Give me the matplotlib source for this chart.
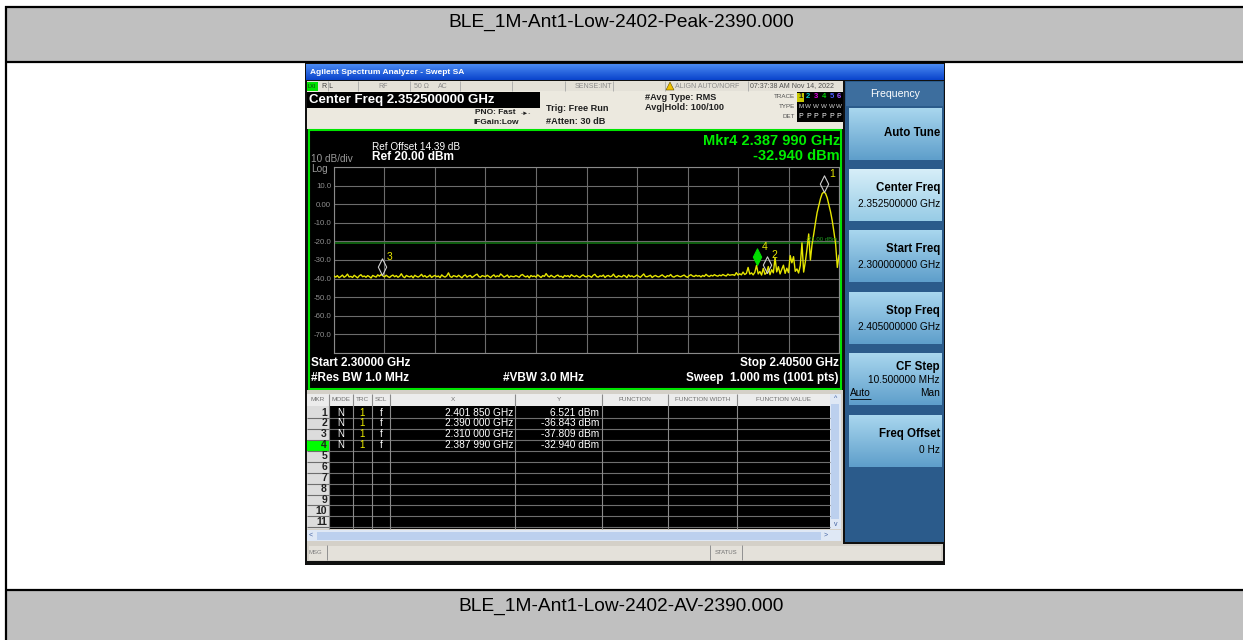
import numpy as np
import matplotlib.pyplot as plt
from matplotlib.patches import Rectangle, Polygon
from matplotlib.path import Path
from matplotlib.colors import to_rgb

plt.rcParams['font.family'] = ['Liberation Sans', 'DejaVu Sans']

# ---- data ----
page_title_top = 'BLE_1M-Ant1-Low-2402-Peak-2390.000'
page_title_bottom = 'BLE_1M-Ant1-Low-2402-AV-2390.000'

start_ghz = 2.300
stop_ghz = 2.405
ref_level_dbm = 20.0
bottom_dbm = -80.0
display_line_dbm = -21.0

# sweep trace, evenly spaced from start to stop (0.35 MHz apart)
trace_dbm = [
    -38.6, -39.2, -38.4, -39.5, -38.9, -38.1, -39.3, -38.7, -37.6, -39.1, -38.8, -39.4,
    -38.2, -38.9, -39.6, -38.5, -37.9, -39.0, -38.6, -39.3, -38.4, -38.9, -39.7, -38.3,
    -38.8, -39.2, -38.0, -38.7, -37.8, -38.5, -39.1, -38.2, -38.9, -39.4, -38.6, -38.1,
    -39.0, -38.4, -39.3, -38.7, -37.4, -38.9, -39.5, -38.3, -38.8, -39.1, -38.5, -39.6,
    -38.2, -38.8, -39.2, -38.6, -37.7, -39.0, -38.4, -39.3, -38.9, -38.1, -39.4, -38.7,
    -38.3, -39.0, -38.6, -39.5, -38.0, -38.8, -39.2, -38.5, -36.9, -38.9, -39.3, -38.4,
    -38.7, -39.1, -38.2, -38.9, -39.6, -38.5, -38.0, -39.2, -38.6, -38.3, -39.4, -38.8,
    -38.1, -37.6, -38.9, -39.3, -38.4, -38.7, -39.0, -38.2, -38.8, -39.5, -38.6, -38.0,
    -39.1, -38.5, -38.9, -37.5, -38.3, -39.2, -38.7, -38.1, -39.4, -38.6, -38.9, -39.0,
    -38.4, -38.8, -39.3, -38.2, -37.8, -38.7, -39.1, -38.5, -39.6, -38.3, -38.9, -38.6,
    -39.2, -38.0, -38.7, -39.4, -38.4, -38.8, -37.3, -38.6, -39.1, -38.2, -38.9, -39.3,
    -38.5, -38.1, -39.0, -38.7, -39.5, -38.3, -38.8, -38.4, -39.2, -37.9, -38.6, -39.0,
    -38.3, -38.9, -39.4, -38.6, -38.0, -38.8, -39.1, -38.4, -38.7, -39.3, -38.2, -37.7,
    -38.9, -39.2, -38.5, -38.8, -38.1, -39.4, -38.6, -38.3, -39.0, -38.7, -37.6, -38.9,
    -39.3, -38.4, -38.8, -39.1, -38.2, -38.6, -39.5, -38.0, -38.9, -38.5, -39.2, -38.7,
    -38.1, -38.8, -39.3, -38.4, -37.5, -38.9, -39.0, -38.6, -38.2, -39.4, -38.7, -38.3,
    -38.9, -39.1, -38.5, -38.0, -38.8, -39.3, -38.4, -38.7, -37.8, -38.9, -39.2, -38.6,
    -38.3, -38.8, -39.0, -38.5, -38.1, -38.9, -39.3, -38.4, -37.9, -38.6, -38.9, -38.2,
    -38.7, -38.4, -39.1, -38.3, -38.8, -37.7, -38.5, -38.9, -38.2, -38.6, -37.9, -38.4,
    -38.7, -38.1, -38.5, -37.8, -38.3, -38.6, -37.6, -38.2, -38.0,
    -37.9, -38.3, -36.8, -38.1, -37.4, -38.0, -36.5, -37.8, -37.2, -34.0, -37.6, -36.9,
    -38.0, -36.6, -32.9, -37.5, -36.2, -38.1, -34.5, -37.7, -36.8, -33.5, -37.9, -35.2,
    -36.9, -28.8, -36.4, -33.6, -37.5, -35.0, -32.8, -37.2, -34.4, -36.8, -27.6, -31.5,
    -28.2, -36.1, -34.8, -37.0, -33.0, -20.8, -36.5, -31.0, -24.0, -16.0, -30.0,
    -21.5, -16.0, -10.0, -4.5, -0.8, 3.0, 5.7, 6.52, 5.8, 3.4, -0.4, -4.2,
    -9.0, -15.0, -21.5, -34.0, -27.5,
]

mkr_ids = [1, 2, 3, 4]
mkr_freq_ghz = [2.401850, 2.390000, 2.310000, 2.387990]
mkr_level_dbm = [6.521, -36.843, -37.809, -32.940]
active_mkr = 4

ytick_dbm = [20, 10, 0, -10, -20, -30, -40, -50, -60, -70, -80]
ytick_labels = ['', '10.0', '0.00', '-10.0', '-20.0', '-30.0', '-40.0', '-50.0', '-60.0', '-70.0', '']

table_cols = ['MKR', 'MODE', 'TRC', 'SCL', 'X', 'Y', 'FUNCTION', 'FUNCTION WIDTH', 'FUNCTION VALUE']
table_rows = 11

softkey_titles = ['Auto Tune', 'Center Freq', 'Start Freq', 'Stop Freq', 'CF Step', 'Freq Offset']
softkey_values = ['', '2.352500000 GHz', '2.300000000 GHz', '2.405000000 GHz', '10.500000 MHz', '0 Hz']

trace_nums = ['1', '2', '3', '4', '5', '6']
trace_cols = ['#202020', '#00c8c8', '#e000e0', '#00d000', '#4a5cff', '#a050ff']

# ---- figure with a pixel-coordinate overlay ----
fig = plt.figure(figsize=(12.43, 6.4), dpi=100)
ui = fig.add_axes([0, 0, 1, 1])
ui.axis('off')


def box(x0, y0, x1, y1, fc, ec='none', lw=0, z=1):
    ui.add_patch(Rectangle((x0, y0), x1 - x0, y1 - y0, fc=fc, ec=ec, lw=lw, zorder=z))


def grad(x0, y0, x1, y1, c_top, c_bot, z=1):
    t = np.linspace(0, 1, 32)[:, None]
    img = (1 - t) * np.array(to_rgb(c_top)) + t * np.array(to_rgb(c_bot))
    ui.imshow(img[:, None, :], extent=(x0, x1, y1, y0), aspect='auto', zorder=z,
              interpolation='bilinear')


def txt(x, y, s, size=6, color='black', ha='left', weight='normal', z=6, **kw):
    ui.text(x, y, s, fontsize=size, color=color, ha=ha, va='center', fontweight=weight,
            zorder=z, **kw)


def hline(y, x0, x1, color, lw, z=4):
    ui.plot([x0, x1], [y, y], color=color, lw=lw, zorder=z, solid_capstyle='butt')


def vline(x, y0, y1, color, lw, z=4):
    ui.plot([x, x], [y0, y1], color=color, lw=lw, zorder=z, solid_capstyle='butt')


# page table
box(7, 7, 1243, 61, '#c0c0c0')
box(7, 590, 1243, 640, '#c0c0c0')
hline(6.5, 5.5, 1243, 'black', 1.6)
hline(61.5, 5.5, 1243, 'black', 1.6)
hline(589.5, 5.5, 1243, 'black', 1.6)
vline(6.5, 5.5, 640, 'black', 1.6)
txt(621, 22, page_title_top, size=13.8, ha='center')
txt(621, 606, page_title_bottom, size=13.8, ha='center')

# screenshot frame and title bar
box(305, 63, 945, 565, '#101010', z=1)
grad(306, 64, 944, 80, '#4a8af2', '#0a44cc', z=2)
txt(310, 72.5, 'Agilent Spectrum Analyzer - Swept SA', size=6, color='white', weight='bold')

# status row
box(307, 81, 843, 91, '#e4e1d8', z=2)
for x in [328, 358, 410, 460, 512, 565, 613, 665, 748]:
    vline(x, 81, 91, '#a8a8a8', 0.6)
box(307, 81.5, 318, 90.5, '#00e000', z=3)
txt(308, 86, 'LXI', size=4, color='#103010')
txt(322, 86, 'R L', size=5, color='#404040')
txt(383, 86, 'RF', size=5, color='#8a8a8a', ha='center')
txt(421, 86, '50 Ω', size=5, color='#8a8a8a', ha='center')
txt(443, 86, 'AC', size=5, color='#8a8a8a', ha='center')
txt(593, 86, 'SENSE:INT', size=5, color='#8a8a8a', ha='center')
ui.add_patch(Polygon([[666, 90], [670, 82], [674, 90]], closed=True, fc='#f0c000', ec='#605000',
                     lw=0.4, zorder=5))
txt(675, 86, 'ALIGN AUTO/NORF', size=5, color='#8a8a8a')
txt(750, 86, '07:37:38 AM Nov 14, 2022', size=5, color='#505050')

# settings header
box(307, 91, 843, 129, '#ece9df', z=2)
box(307, 92, 540, 107.5, 'black', z=3)
txt(309, 100, 'Center Freq 2.352500000 GHz', size=9.5, color='white', weight='bold')
txt(516, 113, 'PNO: Fast', size=6, color='#202020', weight='bold', ha='right')
txt(521, 113, '-►-', size=4.5, color='#202020')
txt(519, 122.5, 'IFGain:Low', size=6, color='#202020', weight='bold', ha='right')
txt(546, 108.5, 'Trig: Free Run', size=6.6, color='#202020', weight='bold')
txt(546, 121, '#Atten: 30 dB', size=6.6, color='#202020', weight='bold')
txt(645, 98, '#Avg Type: RMS', size=6.6, color='#202020', weight='bold')
txt(645, 108, 'Avg|Hold: 100/100', size=6.6, color='#202020', weight='bold')
txt(795, 97, 'TRACE', size=4.5, color='#505050', ha='right')
txt(795, 107, 'TYPE', size=4.5, color='#505050', ha='right')
txt(795, 117, 'DET', size=4.5, color='#505050', ha='right')
box(797, 92, 843, 122, 'black', z=3)
box(797.5, 92.5, 804, 101.5, '#c8c800', z=4)
for i, (num, col) in enumerate(zip(trace_nums, trace_cols)):
    x = 800.7 + 7.7 * i
    txt(x, 97, num, size=5.5, color=col, weight='bold', ha='center')
    txt(x, 107, 'M' if i == 0 else 'W', size=4.5, color='#d0d0d0', ha='center')
    txt(x, 117, 'P', size=5, color='white', ha='center')

# graticule frame
box(309, 129.5, 841.5, 388.5, 'black', ec='#00e400', lw=1.5, z=2)
txt(372, 147, 'Ref Offset 14.39 dB', size=7.2, color='white')
txt(311, 158.5, '10 dB/div', size=7.2, color='#9a9a9a')
txt(372, 157, 'Ref 20.00 dBm', size=8.6, color='white', weight='bold')
txt(311, 168.5, 'Log', size=7.2, color='#9a9a9a')
txt(840, 141, 'Mkr4 2.387 990 GHz', size=10.5, color='#00ee00', weight='bold', ha='right')
txt(840, 156, '-32.940 dBm', size=10.5, color='#00ee00', weight='bold', ha='right')
txt(311, 363, 'Start 2.30000 GHz', size=8.5, color='white', weight='bold')
txt(839, 363, 'Stop 2.40500 GHz', size=8.5, color='white', weight='bold', ha='right')
txt(311, 378, '#Res BW 1.0 MHz', size=8.5, color='white', weight='bold')
txt(503, 378, '#VBW 3.0 MHz', size=8.5, color='white', weight='bold')
txt(839, 378, 'Sweep  1.000 ms (1001 pts)', size=8.5, color='white', weight='bold', ha='right')

# marker table
col_edges = [307, 329, 353, 372, 390, 515, 602, 668, 737, 830]
row_h = 10.94
box(307, 389.5, 843, 545, '#d4d0c8', z=2)
box(307, 394, 830, 405.5, '#ececec', z=3)
box(329, 406, 830, 529, 'black', z=3)
box(307, 406, 329, 529, '#dcdcdc', z=3)
box(307, 407 + row_h * (active_mkr - 1), 329, 407 + row_h * active_mkr, '#00ff00', z=3.5)
for i in range(1, table_rows + 1):
    hline(407 + row_h * i, 307, 830, '#6e6e6e', 0.8)
for x in col_edges[1:-1]:
    vline(x, 394, 529, '#8a8a8a', 0.8)
for name, a, b in zip(table_cols, col_edges[:-1], col_edges[1:]):
    txt((a + b) / 2, 399.5, name, size=4.6, color='#707070', ha='center')
for i in range(table_rows):
    yc = 412.5 + row_h * i
    txt(327, yc, str(i + 1), size=7.5, color='#202020', weight='bold', ha='right')
for i, (f, lvl) in enumerate(zip(mkr_freq_ghz, mkr_level_dbm)):
    yc = 412.5 + row_h * i
    xs = f'{f:.6f}'
    txt(341, yc, 'N', size=7, color='white', ha='center')
    txt(362, yc, '1', size=7, color='#f0f000', ha='center')
    txt(381, yc, 'f', size=7, color='white', ha='center')
    txt(513, yc, xs[:5] + ' ' + xs[5:] + ' GHz', size=7.3, color='white', ha='right')
    txt(599, yc, f'{lvl:.3f} dBm', size=7.3, color='white', ha='right')
box(830, 394, 841, 529, '#dfe8f5', z=3)
box(831.5, 404, 839.5, 519, '#bcd0ee', z=3.5)
txt(835.5, 399, '^', size=5, color='#4060a0', ha='center')
txt(835.5, 524, 'v', size=5, color='#4060a0', ha='center')
box(307, 530, 841, 541, '#dfe8f5', z=3)
box(317, 531.5, 821, 539.5, '#bcd0ee', z=3.5)
txt(311, 535.5, '<', size=5, color='#4060a0', ha='center')
txt(826, 535.5, '>', size=5, color='#4060a0', ha='center')

# message bar
box(307, 544, 943, 561, '#d4d0c8', z=2)
box(309, 545.5, 941, 559.5, '#e4e1da', z=3)
for x in [327, 710, 742]:
    vline(x, 545, 560, '#909090', 0.7)
txt(308.5, 552.5, 'MSG', size=4.3, color='#808080')
txt(726, 552.5, 'STATUS', size=4.3, color='#707070', ha='center')

# softkey panel
box(845, 81, 944, 542, '#2b5b8b', z=2)
box(846, 82, 943, 106, '#3d6e9e', z=3)
txt(895, 94, 'Frequency', size=7.6, color='white', ha='center')
key_tops = [108, 169, 230, 292, 353, 415]
for i, (title, value, top) in enumerate(zip(softkey_titles, softkey_values, key_tops)):
    if i == 1:
        grad(849, top, 942, top + 52, '#d6eef8', '#98cce6', z=3)
    else:
        grad(849, top, 942, top + 52, '#a8d6ee', '#5f9fcb', z=3)
    if not value:
        txt(940, top + 25, title, size=8.3, weight='bold', ha='right')
    elif title == 'CF Step':
        txt(940, top + 14, title, size=8.3, weight='bold', ha='right')
        txt(940, top + 27, value, size=7.3, ha='right')
        txt(850, top + 40, 'Auto', size=7.3)
        hline(top + 45.5, 850, 871, 'black', 0.6, z=6)
        txt(940, top + 40, 'Man', size=7.3, ha='right')
    else:
        txt(940, top + 19, title, size=8.3, weight='bold', ha='right')
        txt(940, top + 35, value, size=7.3, ha='right')

ui.set_xlim(0, 1243)
ui.set_ylim(640, 0)

# ---- spectrum graticule ----
ax = fig.add_axes([334 / 1243, 1 - 353 / 640, 505 / 1243, 186 / 640])
ax.set_facecolor('black')
freq = np.linspace(start_ghz, stop_ghz, len(trace_dbm))
ax.plot(freq, trace_dbm, color='#e6e600', lw=1.0, zorder=3)
ax.axhline(display_line_dbm, color='#137a13', lw=1.1, zorder=2)
ax.text(stop_ghz - 0.0003, display_line_dbm + 0.8, '-21.00 dBm', fontsize=4.3, color='#1f9a1f',
        ha='right', va='bottom')

diamond = Path([(0, 0), (0.5, 1), (0, 2), (-0.5, 1), (0, 0)],
               [Path.MOVETO, Path.LINETO, Path.LINETO, Path.LINETO, Path.CLOSEPOLY])
for n, f, lvl in zip(mkr_ids, mkr_freq_ghz, mkr_level_dbm):
    active = n == active_mkr
    ax.plot([f], [lvl], linestyle='none', marker=diamond, ms=24,
            mfc='#00dd00' if active else 'none', mec='#00dd00' if active else '#cfcfcf',
            mew=0.8, zorder=4, clip_on=False)
    ax.annotate(str(n), (f, lvl), xytext=(5, 13), textcoords='offset pixels', color='#e6e600',
                fontsize=7.5, ha='left', va='bottom', annotation_clip=False)

ax.set_xlim(start_ghz, stop_ghz)
ax.set_ylim(bottom_dbm, ref_level_dbm)
ax.set_xticks(np.linspace(start_ghz, stop_ghz, 11))
ax.set_xticklabels([])
ax.set_yticks(ytick_dbm)
ax.set_yticklabels(ytick_labels)
ax.tick_params(length=0, labelsize=5.7, labelcolor='#8e8e8e', pad=2)
ax.grid(True, color='#6c6c6c', lw=0.8)
for s in ax.spines.values():
    s.set_color('#8a8a8a')
    s.set_linewidth(0.8)

fig.savefig('out.png', dpi=100)
